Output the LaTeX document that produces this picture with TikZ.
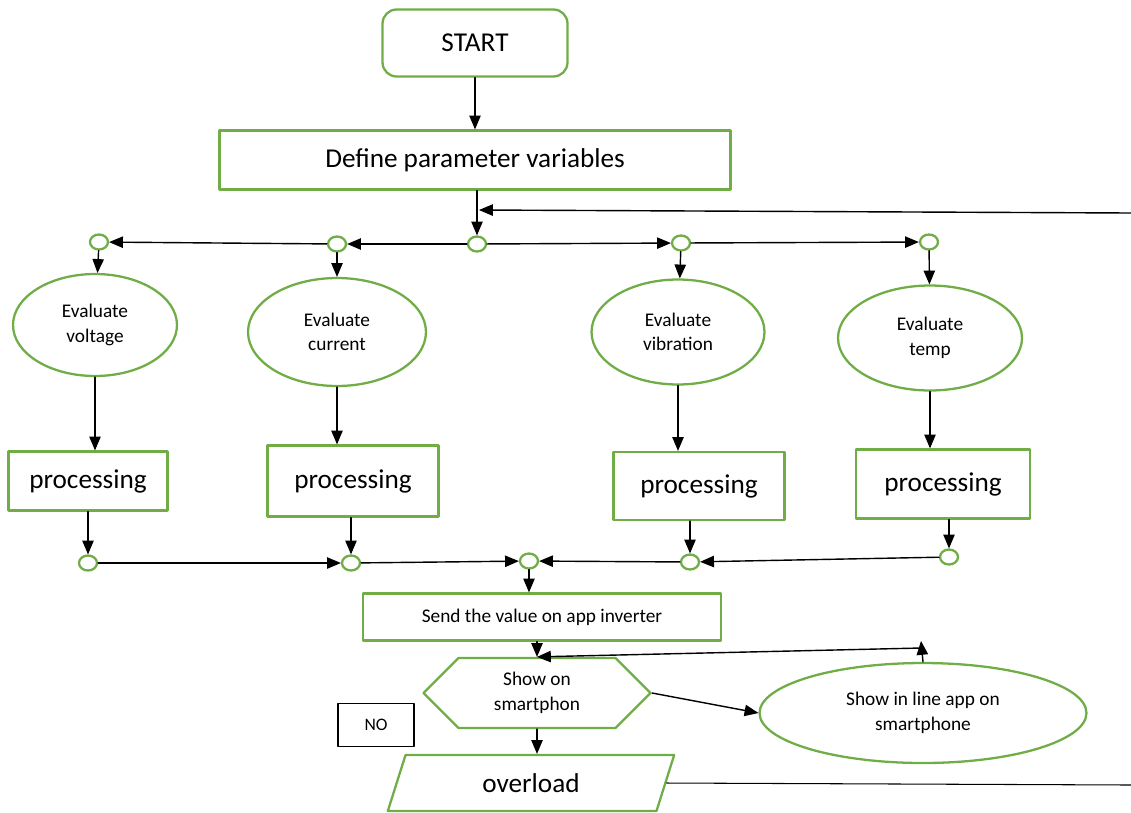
\documentclass[tikz,border=0pt]{standalone}
\usepackage{fontspec}
\setmainfont{Carlito}
\usepackage{tikz}
\usetikzlibrary{arrows}
\usetikzlibrary{shapes.geometric}
\usetikzlibrary{shapes.symbols}
\definecolor{flowgreen}{HTML}{70AD47}
\tikzset{
  greenline/.style={draw=flowgreen,line width=1.3pt},
  bigtext/.style={font=\fontsize{15.5}{18}\selectfont},
  smalltext/.style={font=\fontsize{11}{14}\selectfont,align=center},
  startbox/.style={greenline,rounded corners=8pt,minimum width=3.7cm,minimum height=1.34cm,bigtext},
  procbox/.style={greenline,rectangle,bigtext},
  evalnode/.style={greenline,ellipse,smalltext,inner sep=0pt},
  joint/.style={greenline,ellipse,inner sep=0pt,minimum width=0.36cm,minimum height=0.3cm},
  flow/.style={->,line width=0.8pt,black}
}
\begin{document}
\begin{tikzpicture}[line cap=round,line join=round,>=triangle 45,x=0.02cm,y=-0.02cm]
\useasboundingbox (0,0) rectangle (1131,812);
%top part
\node[startbox] (start) at (475,43) {START};
\node[procbox,minimum width=10.22cm,minimum height=1.18cm] (define) at (475,160) {Define parameter variables};
\node[joint] (c0) at (477,244) {};
\node[joint] (c1) at (337,244) {};
\node[joint] (c2) at (99,242) {};
\node[joint] (c3) at (681,243) {};
\node[joint] (c4) at (929,242) {};
\coordinate (fbR) at (1131,213);
\coordinate (fbL) at (479,210);
%evaluation
\node[evalnode,minimum width=3.28cm,minimum height=2.04cm] (volt) at (95,325) {Evaluate\\voltage};
\node[evalnode,minimum width=3.56cm,minimum height=2.16cm] (curr) at (337,332) {Evaluate\\current};
\node[evalnode,minimum width=3.46cm,minimum height=2.1cm] (vib) at (678,332) {Evaluate\\vibration};
\node[evalnode,minimum width=3.68cm,minimum height=2.1cm] (temp) at (930,338) {Evaluate\\temp};
\node[procbox,minimum width=3.18cm,minimum height=1.18cm] (p1) at (88,481) {processing};
\node[procbox,minimum width=3.42cm,minimum height=1.42cm] (p2) at (353,481) {processing};
\node[procbox,minimum width=3.42cm,minimum height=1.36cm] (p3) at (699,486) {processing};
\node[procbox,minimum width=3.48cm,minimum height=1.38cm] (p4) at (943,484) {processing};
\node[joint] (b1) at (88,563) {};
\node[joint] (b2) at (351,563) {};
\node[joint] (b0) at (529,561) {};
\node[joint] (b3) at (690,562) {};
\node[joint] (b4) at (949,557) {};
%output part
\node[procbox,minimum width=7.16cm,minimum height=0.94cm,smalltext] (send) at (542,617) {Send the value on app inverter};
\node[greenline,signal,signal to=west and east,minimum width=4.54cm,minimum height=1.4cm,smalltext,inner sep=1pt] (hex) at (537,693) {Show on\\smartphon};
\node[evalnode,minimum width=6.54cm,minimum height=2cm] (app) at (923,713) {Show in line app on\\smartphone};
\coordinate (upTip) at (921,641);
\coordinate (upMid) at (921,648);
\node[draw,line width=0.6pt,minimum width=1.52cm,minimum height=0.86cm,font=\fontsize{10}{12}\selectfont] (no) at (376,725) {NO};
\node[greenline,trapezium,trapezium stretches=true,trapezium left angle=76,trapezium right angle=104,minimum width=5.74cm,minimum height=1.12cm,bigtext] (over) at (531,783) {overload};
\coordinate (overR) at (1131,785);
%connectors
\draw[flow] (start) -- (define);
\draw[flow] (c0 |- define.south) -- (c0);
\draw[flow] (fbR) -- (fbL);
\draw[flow] (c0) -- (c1);
\draw[flow] (c1) -- (c2);
\draw[flow] (c0) -- (c3);
\draw[flow] (c3) -- (c4);
\draw[flow] (c2) -- (volt);
\draw[flow] (c1) -- (curr);
\draw[flow] (c3) -- (vib);
\draw[flow] (c4) -- (temp);
\draw[flow] (volt.south) -- (volt.south |- p1.north);
\draw[flow] (curr.south) -- (curr.south |- p2.north);
\draw[flow] (vib.south) -- (vib.south |- p3.north);
\draw[flow] (temp.south) -- (temp.south |- p4.north);
\draw[flow] (b1 |- p1.south) -- (b1);
\draw[flow] (b2 |- p2.south) -- (b2);
\draw[flow] (b3 |- p3.south) -- (b3);
\draw[flow] (b4 |- p4.south) -- (b4);
\draw[flow] (b1) -- (b2);
\draw[flow] (b2) -- (b0);
\draw[flow] (b3) -- (b0);
\draw[flow] (b4) -- (b3);
\draw[flow] (b0) -- (b0 |- send.north);
\draw[flow] (hex |- send.south) -- (hex.north);
\draw[flow] (hex.east) -- (app.west);
\draw[flow] (app.north) -- (upTip);
\draw[flow] (upMid) -- (hex.north);
\draw[flow] (hex.south) -- (hex.south |- over.north);
\draw[line width=0.6pt] (over.east) -- (overR);
\end{tikzpicture}
\end{document}
